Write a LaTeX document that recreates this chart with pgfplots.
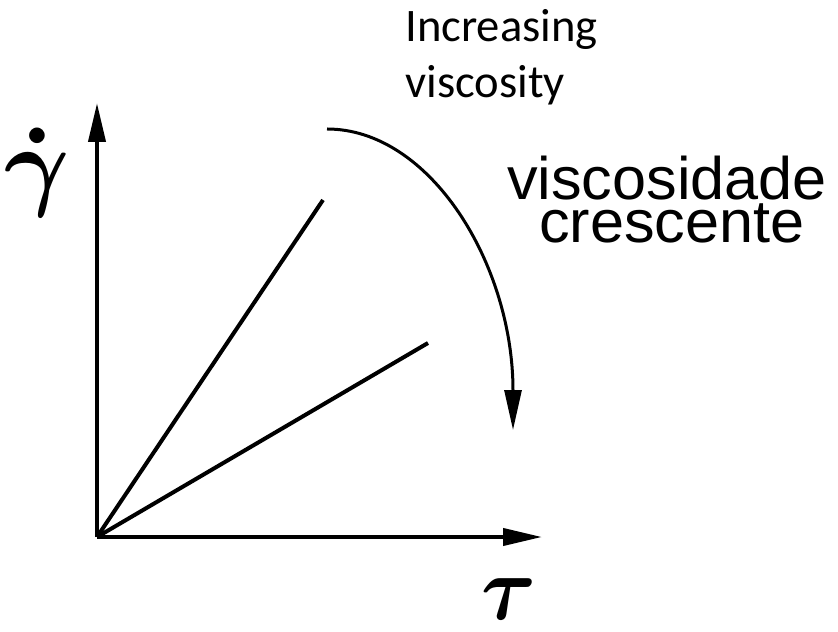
\documentclass[border=0pt]{standalone}
\usepackage{amsmath}
\usepackage{fontspec}
\setmainfont{Carlito}
\newfontfamily\helv{Liberation Sans}
\usepackage{pgfplots}
\pgfplotsset{compat=1.18}
\usetikzlibrary{arrows.meta}

% two Newtonian fluids: shear rate against shear stress
\pgfplotstableread{
tau  gdot
0    0
226  337
}\fluidlow
\pgfplotstableread{
tau  gdot
0    0
331  194
}\fluidhigh

\begin{document}
\begin{tikzpicture}
\begin{axis}[
  scale only axis,
  width=222.5pt, height=217pt,
  xmin=0, xmax=445, ymin=0, ymax=434,
  axis lines=left,
  axis line style={line width=2pt, -{Triangle[length=19.5pt,width=8.5pt]}},
  xtick=\empty, ytick=\empty,
  clip=false,
]
  % page extent
  \path (axis cs:-97,-94) rectangle (axis cs:741,537);

  \addplot[black, line width=2pt] table[x=tau, y=gdot] {\fluidlow};
  \addplot[black, line width=2pt] table[x=tau, y=gdot] {\fluidhigh};

  % direction of increasing viscosity
  \draw[line width=1.5pt, -{Triangle[length=20pt,width=8.5pt]}]
    (axis cs:230,408) .. controls (axis cs:333,408) and (axis cs:416,273) .. (axis cs:416,107);

  % axis symbols
  \node[inner sep=0pt, scale=5] at (axis cs:-60,364) {$\boldsymbol{\dot{\gamma}}$};
  \node[inner sep=0pt, xscale=4.2, yscale=4.6] at (axis cs:412,-62) {$\boldsymbol{\tau}$};

  % captions
  \node[anchor=base west, inner sep=0pt] at (axis cs:308,495) {\fontsize{23.3}{28}\selectfont Increasing};
  \node[anchor=base west, inner sep=0pt] at (axis cs:308,439) {\fontsize{23.3}{28}\selectfont viscosity};
  \node[anchor=base, inner sep=0pt, xscale=1.02] at (axis cs:570,337) {\helv\fontsize{30}{30}\selectfont viscosidade};
  \node[anchor=base, inner sep=0pt, xscale=1.02] at (axis cs:575,294) {\helv\fontsize{30}{30}\selectfont crescente};
\end{axis}
\end{tikzpicture}
\end{document}
